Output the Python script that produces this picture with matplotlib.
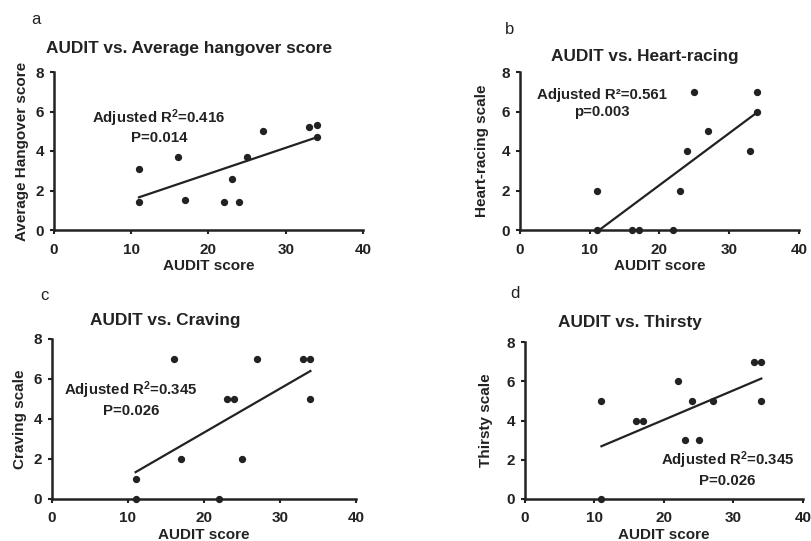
import numpy as np
import matplotlib
matplotlib.use('Agg')
import matplotlib.pyplot as plt

plt.rcParams['font.family'] = ['Liberation Sans', 'DejaVu Sans']
plt.rcParams['font.weight'] = 'bold'
plt.rcParams['mathtext.fontset'] = 'custom'
plt.rcParams['mathtext.rm'] = 'Liberation Sans:bold'
plt.rcParams['mathtext.bf'] = 'Liberation Sans:bold'
plt.rcParams['mathtext.default'] = 'bf'

# AUDIT score of each subject (same subjects in every panel)
audit = [11, 11, 16, 17, 22, 23, 24, 25, 27, 33, 34, 34]

hangover = [3.1, 1.4, 3.7, 1.5, 1.4, 2.6, 1.4, 3.7, 5.0, 5.2, 5.3, 4.7]
heart_racing = [2, 0, 0, 0, 0, 2, 4, 7, 5, 4, 7, 6]
craving = [1, 0, 7, 2, 0, 5, 5, 2, 7, 7, 7, 5]
thirsty = [5, 0, 4, 4, 6, 3, 5, 3, 5, 7, 7, 5]

titles = ['AUDIT vs. Average hangover score', 'AUDIT vs. Heart-racing',
          'AUDIT vs. Craving', 'AUDIT vs. Thirsty']
ylabels = ['Average Hangover score', 'Heart-racing scale', 'Craving scale', 'Thirsty scale']
letters = ['a', 'b', 'c', 'd']
stats = ['Adjusted R$^2$=0.416\nP=0.014', 'Adjusted R\u00b2=0.561\np=0.003',
         'Adjusted R$^2$=0.345\nP=0.026', 'Adjusted R$^2$=0.345\nP=0.026']

W, H = 812, 541
ink = '#222222'

# axes boxes in pixels: left, right, top, bottom
boxes = [(54, 363, 72, 230), (520, 799, 72, 230), (52, 356, 339, 499), (525, 803, 342, 499)]
letter_pos = [(36, 20), (510, 30), (44, 295), (515, 293)]
title_pos = [(189, 48), (645, 56), (165, 320), (630, 323)]
stat_pos = [(13.6, 5.25), (11.7, 6.4), (10.4, 5.0), (29.1, 1.55)]
ylab_pad = [5, 9, 5, 10]

fig = plt.figure(figsize=(W / 100, H / 100), dpi=100)

for i, yvals in enumerate([hangover, heart_racing, craving, thirsty]):
    l, r, t, b = boxes[i]
    ax = fig.add_axes([l / W, 1 - b / H, (r - l) / W, (b - t) / H])
    ax.scatter(audit, yvals, s=18, color=ink, zorder=3, clip_on=False)

    # least-squares line over the range of AUDIT scores
    slope, icpt = np.polyfit(audit, yvals, 1)
    xs = np.array([min(audit), max(audit)])
    ax.plot(xs, slope * xs + icpt, color=ink, lw=1.6)

    ax.set_xlim(0, 40)
    ax.set_ylim(0, 8)
    ax.set_xticks([0, 10, 20, 30, 40])
    ax.set_yticks([0, 2, 4, 6, 8])
    for s in ['top', 'right']:
        ax.spines[s].set_visible(False)
    for s in ['left', 'bottom']:
        ax.spines[s].set_linewidth(1.8)
        ax.spines[s].set_color(ink)
    ax.tick_params(direction='out', length=3, width=1.5, colors=ink, labelsize=11, pad=4)
    ax.tick_params(axis='x', pad=6)
    for lab in ax.get_xticklabels() + ax.get_yticklabels():
        lab.set_fontweight('bold')
    ax.set_xlabel('AUDIT score', fontsize=11, fontweight='bold', color=ink, labelpad=1.5)
    ax.set_ylabel(ylabels[i], fontsize=11, fontweight='bold', color=ink, labelpad=ylab_pad[i])

    ax.text(stat_pos[i][0], stat_pos[i][1], stats[i], ha='center', va='center',
            fontsize=10.8, fontweight='bold', color=ink, linespacing=1.25)

    fig.text(title_pos[i][0] / W, 1 - title_pos[i][1] / H, titles[i], ha='center',
             va='center', fontsize=12.4, fontweight='bold', color=ink)
    fig.text(letter_pos[i][0] / W, 1 - letter_pos[i][1] / H, letters[i], ha='center',
             va='center', fontsize=12, fontweight='normal', color=ink)

fig.savefig('out.png', dpi=100, facecolor='white')
